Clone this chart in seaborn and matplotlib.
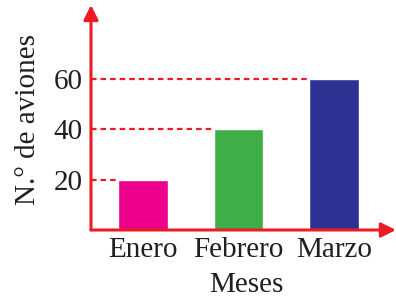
import matplotlib
matplotlib.use("Agg")
import matplotlib.pyplot as plt
import seaborn as sns
import pandas as pd

meses = ["Enero", "Febrero", "Marzo"]
aviones = [20, 40, 60]
colores = ["#EC008C", "#3FAE49", "#2E3192"]
ticks_y = [20, 40, 60]

ROJO = "#ED1C24"
ANCHO = 0.52


def plot_data(df):
    sns.set_style("white")
    plt.rcParams["font.family"] = ["Liberation Serif", "DejaVu Serif"]

    fig = plt.figure(figsize=(3.96, 3.01), dpi=100)
    ax = fig.add_axes([0.2298, 0.2359, 0.770, 0.7475])

    sns.barplot(data=df, x="mes", y="n", hue="mes", palette=colores,
                width=ANCHO, legend=False, saturation=1, ax=ax)

    ax.set_xlim(-0.545, 2.65)
    ax.set_ylim(0, 89.4)

    # lineas punteadas desde el eje hasta cada barra
    for i, v in enumerate(df["n"]):
        ax.hlines(v, -0.545, i - ANCHO / 2, colors=ROJO, linestyles=(0, (2.5, 1.8)),
                  linewidth=1.6, zorder=3)

    for s in ax.spines.values():
        s.set_visible(False)

    # ejes con flecha
    ax.annotate("", xy=(0, 1), xytext=(0, 0), xycoords="axes fraction",
                arrowprops=dict(arrowstyle="-|>", color=ROJO, lw=2.2,
                                mutation_scale=22, shrinkA=0, shrinkB=0))
    ax.annotate("", xy=(1, 0), xytext=(0, 0), xycoords="axes fraction",
                arrowprops=dict(arrowstyle="-|>", color=ROJO, lw=2.2,
                                mutation_scale=22, shrinkA=0, shrinkB=0))

    ax.set_yticks(ticks_y)
    ax.set_yticklabels([str(t) for t in ticks_y])
    ax.tick_params(axis="both", length=0, labelsize=21, colors="#231F20")
    ax.tick_params(axis="y", pad=6)
    ax.tick_params(axis="x", pad=5)

    ax.set_xlabel("Meses", fontsize=21, color="#231F20")
    ax.set_ylabel("N.° de aviones", fontsize=21, color="#231F20")
    ax.xaxis.set_label_coords(0.508, -0.185)
    ax.yaxis.set_label_coords(-0.165, 0.49)

    fig.savefig("out.png", dpi=100)


def main():
    df = pd.DataFrame({"mes": meses, "n": aviones})
    plot_data(df)


if __name__ == "__main__":
    main()
